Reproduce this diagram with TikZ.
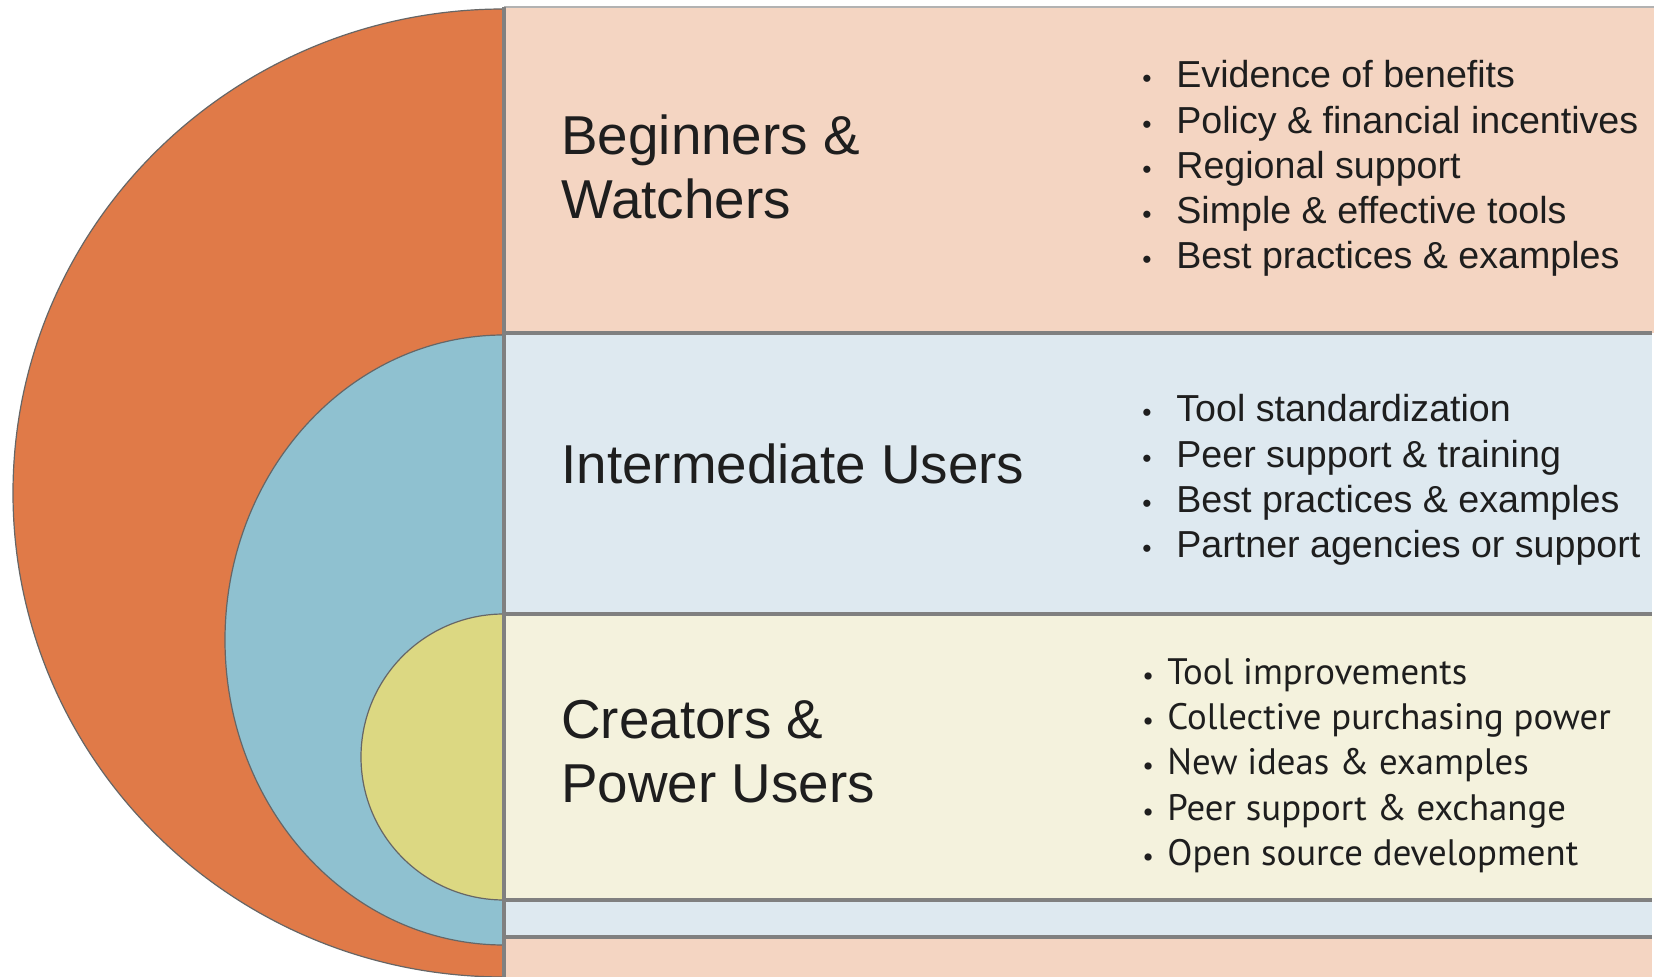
\documentclass[tikz,border=0pt]{standalone}
\usepackage{fontspec}
\setmainfont{Liberation Sans}
\newfontfamily\myriadlike{PT Sans}
\usepackage{xcolor}
\usepackage{tikz}
\usetikzlibrary{positioning}

\definecolor{ringorange}{HTML}{E07A48}
\definecolor{ringblue}{HTML}{8FC1D0}
\definecolor{ringyellow}{HTML}{DCD882}
\definecolor{boxpeach}{HTML}{F4D5C2}
\definecolor{boxblue}{HTML}{DEE9F0}
\definecolor{boxcream}{HTML}{F4F2DD}
\definecolor{textdark}{HTML}{1E1E1E}

\tikzset{
  ring/.style={draw=black!60, line width=0.6pt},
  divider/.style={draw=black!50, line width=1.6pt},
  heading/.style={anchor=west, inner sep=0pt, align=left, text=textdark,
    font=\fontsize{27.4}{32}\selectfont},
  bullets/.style={anchor=west, inner sep=0pt, align=left, text=textdark,
    font=\fontsize{18.8}{22.6}\selectfont},
  bulletsalt/.style={bullets, font=\myriadlike\fontsize{18.4}{22.6}\selectfont},
}
\newcommand{\bitem}[1]{\makebox[17pt][l]{\scalebox{0.7}{\textbullet}}#1}
\newcommand{\citem}[1]{\makebox[12.5pt][l]{\scalebox{0.7}{\textbullet}}#1}

\begin{document}
\begin{tikzpicture}[x=0.5pt, y=-0.5pt]
    \useasboundingbox (0,0) rectangle (1661,977);
    \fill[white] (0,0) rectangle (1661,977);
    % bands on the right
    \fill[boxpeach] (504,7) rectangle (1654,333);
    \fill[boxblue] (504,333) rectangle (1652,614);
    \fill[boxcream] (504,614) rectangle (1652,900);
    \fill[boxblue] (504,900) rectangle (1652,937);
    \fill[boxpeach] (504,937) rectangle (1652,977);
    \draw[draw=black!30, line width=0.8pt] (504,7) -- (1654,7);
    \foreach \y in {333,614,900,937}
        \draw[divider] (504,\y) -- (1652,\y);
    % half rings on the left
    \draw[ring, fill=ringorange] (504,977) arc[start angle=90, end angle=270, x radius=491, y radius=484] -- cycle;
    \draw[ring, fill=ringblue] (504,945) arc[start angle=90, end angle=270, x radius=279, y radius=305] -- cycle;
    \draw[ring, fill=ringyellow] (504,900) arc[start angle=90, end angle=270, x radius=143, y radius=143] -- cycle;
    \draw[divider] (504,7) -- (504,977);
    % headings
    \node[heading] (beginners) at (561,167) {Beginners \&\\Watchers};
    \node[heading] (intermediate) at (561,464) {Intermediate Users};
    \node[heading] (creators) at (561,752) {Creators \&\\Power Users};
    % needs
    \node[bullets] (beginnersneeds) at (1142,168.5) {%
        \bitem{Evidence of benefits}\\
        \bitem{Policy \& financial incentives}\\
        \bitem{Regional support}\\
        \bitem{Simple \& effective tools}\\
        \bitem{Best practices \& examples}};
    \node[bullets] (intermediateneeds) at (1142,480) {%
        \bitem{Tool standardization}\\
        \bitem{Peer support \& training}\\
        \bitem{Best practices \& examples}\\
        \bitem{Partner agencies or support}};
    \node[bulletsalt] (creatorsneeds) at (1142,765.5) {%
        \citem{Tool improvements}\\
        \citem{Collective purchasing power}\\
        \citem{New ideas \& examples}\\
        \citem{Peer support \& exchange}\\
        \citem{Open source development}};
\end{tikzpicture}
\end{document}
